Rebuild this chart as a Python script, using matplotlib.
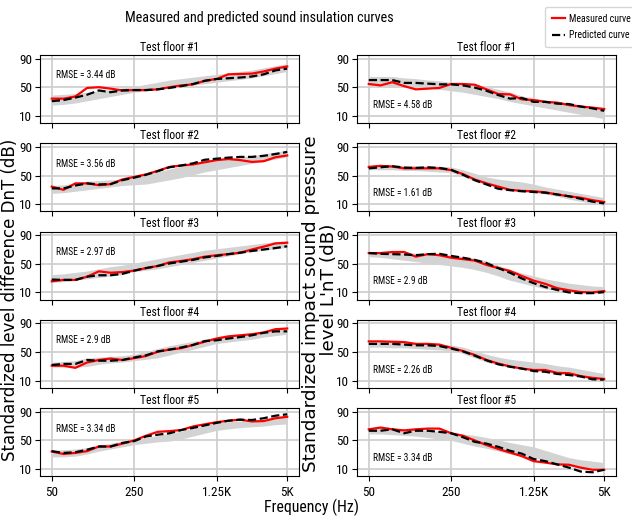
import matplotlib
matplotlib.use('Agg')
import matplotlib.pyplot as plt
from matplotlib import font_manager
from matplotlib.font_manager import FontProperties

# look for a narrow/condensed face for the horizontal texts (width factor vs. Liberation Narrow)
prefs = [('LiberationSansNarrow-Regular', 1.0), ('RobotoCondensed-Regular', 1.08),
         ('NotoSans-Condensed.', 1.12), ('NotoSans-CondensedRegular', 1.12),
         ('OpenSans_Condensed-Regular', 1.05), ('DejaVuSansCondensed.', 1.22)]
narrow_file, wf = None, 1.3
files = [f.fname for f in font_manager.fontManager.ttflist]
for key, fac in prefs:
    hit = [p for p in files if key in p]
    if hit:
        narrow_file, wf = hit[0], fac
        break


def nfont(size):
    if narrow_file:
        return FontProperties(fname=narrow_file, size=size / wf)
    return FontProperties(family='DejaVu Sans', size=size / wf)


# 1/3 octave bands 50 Hz .. 5 kHz (21 bands), only some are labelled
tick_idx = [0, 7, 14, 20]
tick_lbl = ['50', '250', '1.25K', '5K']
nband = 21

# ---- left column: DnT ----
dnt_meas = [
    [34, 34, 37, 49, 50, 48, 45.5, 46, 46, 47, 50, 52.5, 54, 59, 61.5, 68, 68.5, 69, 72, 76, 79],
    [34.5, 30, 39, 39, 36.5, 38, 44.5, 48, 51.5, 56.5, 62, 64, 65.5, 68.5, 71.5, 73, 71.5, 69, 70, 75.5, 78],
    [25.5, 27.5, 27.5, 32, 39.5, 37.5, 38.5, 40.5, 44, 47, 52, 54, 56.5, 60, 62, 63.5, 65.5, 70, 74, 78.5, 79.5],
    [31, 31, 28, 35.5, 39, 41, 39, 41.5, 44.5, 50.5, 53.5, 55.5, 60, 64.5, 69, 72, 73.5, 75, 77.5, 82, 83],
    [34.5, 31, 32.5, 35, 41.5, 41.5, 45.5, 50, 56.5, 62, 63, 64.5, 69.5, 72.5, 75.5, 77.5, 79, 76.5, 77, 81, 83],
]
dnt_pred = [
    [30.5, 32, 35.5, 39.5, 45.5, 43, 45.5, 46, 46, 47, 49, 51.5, 54.5, 59, 61.5, 62.5, 63.5, 65, 68, 73.5, 76],
    [32, 32, 36, 39, 37.5, 38, 43.5, 47, 51, 56, 61.5, 64, 67, 72, 73.5, 75, 76, 76, 77.5, 80, 83],
    [28, 27.5, 27.5, 32, 34, 34, 36, 40.5, 44, 47, 50.5, 53, 55.5, 59, 61, 63.5, 65.5, 68, 70, 72, 74.5],
    [32, 33.5, 33.5, 39, 38, 38, 39, 42.5, 45.5, 51, 53.5, 56.5, 60, 65.5, 66.5, 69, 71, 73.5, 77, 79, 79],
    [35, 32.5, 33.5, 37, 41.5, 41.5, 46.5, 49, 55.5, 58, 60, 64.5, 67.5, 71, 74.5, 77.5, 79, 78.5, 81, 84.5, 86.5],
]
dnt_lo = [
    [25, 26, 28, 31, 34, 37, 40, 43, 45, 47, 49, 51, 53, 55, 57, 59, 61, 63, 66, 69, 72],
    [25, 26, 28, 30, 32, 34, 36, 37, 38, 41, 44, 47, 51, 55, 58, 61, 64, 67, 70, 73, 76],
    [24, 25, 27, 29, 31, 33, 35, 39, 41, 43, 46, 49, 52, 55, 58, 61, 64, 67, 69, 71, 73],
    [29, 29, 29, 30, 33, 35, 36, 38, 40, 42, 46, 50, 54, 58, 62, 64, 66, 68, 71, 73, 75],
    [27, 27, 28, 31, 35, 38, 41, 44, 46, 48, 49, 52, 56, 60, 64, 66, 68, 69, 70, 72, 73],
]
dnt_hi = [
    [39, 40, 41, 43, 45, 47, 49, 51, 54, 57, 60, 62, 64, 66, 68, 70, 72, 74, 77, 80, 83],
    [36, 37, 39, 42, 43, 44, 45, 47, 51, 55, 59, 63, 66, 69, 72, 74, 76, 78, 80, 83, 85],
    [35, 36, 38, 40, 43, 46, 48, 51, 54, 57, 60, 63, 66, 69, 71, 73, 75, 77, 79, 81, 82],
    [36, 37, 38, 42, 43, 44, 45, 47, 51, 55, 59, 62, 65, 68, 71, 72, 73, 75, 78, 81, 84],
    [36, 37, 38, 40, 43, 46, 49, 51, 54, 57, 60, 63, 67, 71, 75, 76, 77, 78, 80, 82, 84],
]
dnt_rmse = ['3.44', '3.56', '2.97', '2.9', '3.34']

# ---- right column: L'nT ----
lnt_meas = [
    [54.5, 52.5, 57, 51.5, 47, 48, 49, 54.5, 54.5, 53.5, 47, 40.5, 40, 33, 32, 29.5, 28.5, 25, 23, 21.5, 19.5],
    [62, 63.5, 62.5, 60, 60, 60, 60, 57.5, 52, 44.5, 39, 34.5, 30, 28.5, 28, 26.5, 23.5, 21, 19, 15.5, 13],
    [65, 65, 66.5, 66.5, 60, 63.5, 62, 58.5, 56.5, 54.5, 48.5, 44, 40, 33, 26.5, 22, 16, 13, 10.5, 10, 12],
    [65, 65, 64.5, 64, 61.5, 61.5, 60.5, 56, 51.5, 46, 39, 34, 30, 27, 25, 25, 21, 20.5, 16.5, 14, 12.5],
    [65.5, 68, 65.5, 64, 65.5, 66.5, 66.5, 60, 56.5, 50, 43.5, 38, 33, 28, 21, 19, 16.5, 16, 12, 9, 9],
]
lnt_pred = [
    [60, 60, 60, 56, 56, 55, 54, 54, 52.5, 49.5, 45, 39, 34, 35, 29.5, 29.5, 27, 26.5, 23, 20.5, 17],
    [60, 61.5, 63, 61, 60.5, 61.5, 60.5, 58, 51, 43.5, 37.5, 31.5, 29.5, 28, 27, 26, 23.5, 21, 17.5, 13.5, 11],
    [65, 64, 63.5, 63, 62, 63.5, 64, 61, 58.5, 55.5, 51, 44, 37.5, 29.5, 23, 17.5, 13.5, 10, 9, 9, 10.5],
    [61.5, 61.5, 61.5, 60.5, 59.5, 59.5, 58.5, 55, 51, 45, 38.5, 33, 29.5, 27, 23.5, 22.5, 19.5, 18, 16, 12, 11.5],
    [63.5, 63.5, 65.5, 60, 63.5, 63.5, 62, 60, 54.5, 48, 45.5, 41, 35.5, 31.5, 24, 21, 16.5, 12, 6.5, 5.5, 9],
]
lnt_lo = [
    [52, 52, 52, 51, 50, 49, 47, 45, 43, 40, 37, 34, 30, 27, 24, 21, 18, 15, 12, 9, 6],
    [58, 58, 58, 57, 57, 56, 55, 54, 49, 42, 37, 33, 30, 28, 26, 24, 21, 17, 14, 11, 8],
    [60, 59, 57, 55, 53, 51, 49, 47, 45, 42, 38, 33, 27, 23, 19, 15, 13, 11, 10, 9, 9],
    [57, 57, 56, 56, 55, 54, 53, 52, 48, 42, 36, 32, 29, 27, 24, 22, 20, 18, 15, 12, 9],
    [59, 59, 58, 57, 56, 54, 52, 50, 46, 42, 39, 35, 31, 28, 26, 22, 18, 14, 12, 10, 8],
]
lnt_hi = [
    [65, 65, 65, 63, 62, 60, 59, 57, 55, 53, 51, 47, 43, 38, 35, 32, 30, 28, 25, 22, 19],
    [64, 65, 65, 64, 64, 63, 63, 62, 58, 53, 48, 45, 43, 41, 38, 34, 31, 28, 25, 22, 19],
    [66, 66, 66, 65, 65, 64, 63, 62, 60, 58, 54, 48, 42, 37, 33, 29, 26, 23, 21, 19, 18],
    [64, 64, 64, 63, 63, 62, 61, 60, 57, 52, 47, 43, 40, 38, 36, 34, 31, 29, 26, 23, 20],
    [68, 68, 67, 66, 65, 64, 63, 61, 59, 57, 54, 51, 47, 44, 41, 36, 31, 26, 23, 21, 19],
]
lnt_rmse = ['4.58', '1.61', '2.9', '2.26', '3.34']

W, H = 632, 516
fig = plt.figure(figsize=(W / 100, H / 100), dpi=100)

x = list(range(nband))
cols = [(40, dnt_meas, dnt_pred, dnt_lo, dnt_hi, dnt_rmse, 0.70),
        (357, lnt_meas, lnt_pred, lnt_lo, lnt_hi, lnt_rmse, 0.27)]

lines = None
for left, meas, pred, lo, hi, rmse, ty in cols:
    for k in range(5):
        top = 55 + 88.3 * k
        ax = fig.add_axes([left / W, 1 - (top + 68) / H, 259 / W, 68 / H])
        ax.set_axisbelow(True)
        ax.fill_between(x, lo[k], hi[k], color='#d3d3d3', lw=0)
        l1, = ax.plot(x, meas[k], color='red', lw=1.6, label='Measured curve')
        l2, = ax.plot(x, pred[k], 'k--', lw=1.6, label='Predicted curve')
        lines = [l1, l2]
        ax.set_xlim(-1, 21)
        ax.set_ylim(0, 95)
        ax.set_yticks([10, 50, 90])
        ax.set_xticks(tick_idx)
        if k == 4:
            ax.set_xticklabels(tick_lbl)
        else:
            ax.set_xticklabels([])
        ax.tick_params(axis='y', pad=2)
        ax.grid(True, color='#cccccc', lw=1.2)
        for t in ax.get_xticklabels() + ax.get_yticklabels():
            t.set_fontproperties(nfont(10.2))
        ax.set_title('Test floor #%d' % (k + 1), fontproperties=nfont(9), pad=3)
        ax.text(0.062, ty, 'RMSE = %s dB' % rmse[k], transform=ax.transAxes,
                fontproperties=nfont(7.4), va='center')

fig.text(259 / W, 1 - 18 / H, 'Measured and predicted sound insulation curves',
         ha='center', va='center', fontproperties=nfont(11))
fig.text(312 / W, 1 - 507 / H, 'Frequency (Hz)', ha='center', va='center',
         fontproperties=nfont(12.4))
fig.text(10.5 / W, 1 - 300 / H, 'Standardized level difference DnT (dB)',
         rotation=90, ha='center', va='center', fontsize=12)
fig.text(320 / W, 1 - 304 / H,
         "Standardized impact sound pressure\n     level L'nT (dB)",
         rotation=90, ha='center', va='center', fontsize=13.2, linespacing=0.95)

# legend sits in the top right corner, its box runs off the edge like the original
leg = fig.legend(lines, ['Measured curve', 'Predicted curve'], loc='upper left',
                 bbox_to_anchor=(545 / W, 1 - 7 / H), prop=nfont(7.6),
                 handlelength=1.3, handletextpad=0.5, labelspacing=0.65,
                 borderpad=0.7, borderaxespad=0)

fig.savefig('out.png', dpi=100)
